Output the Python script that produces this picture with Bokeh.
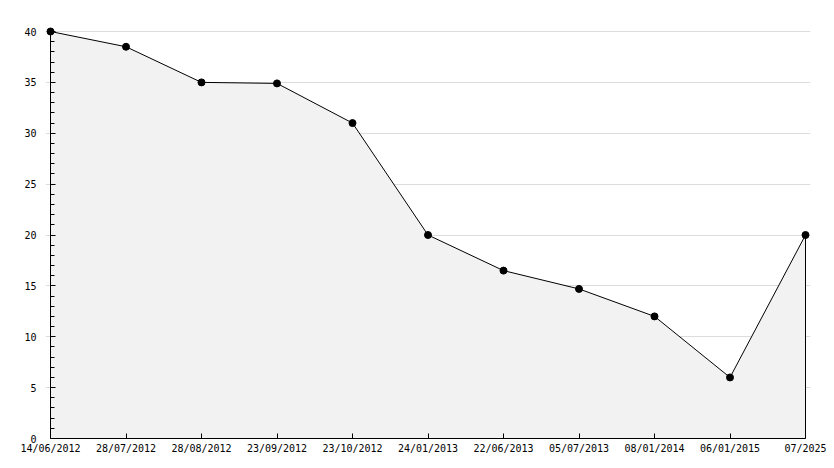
from bokeh.plotting import figure
from bokeh.models import Range1d, FixedTicker, ColumnDataSource, LinearAxis
from bokeh.embed import file_html
from bokeh.resources import INLINE

dates = ["14/06/2012", "28/07/2012", "28/08/2012", "23/09/2012", "23/10/2012",
         "24/01/2013", "22/06/2013", "05/07/2013", "08/01/2014", "06/01/2015", "07/2025"]
values = [40, 38.5, 35, 34.9, 31, 20, 16.5, 14.7, 12, 6, 20]
y_ticks = [0, 5, 10, 15, 20, 25, 30, 35, 40]

idx = list(range(len(dates)))
src = ColumnDataSource(dict(x=idx, y=values, base=[0] * len(values)))

# small padding so end markers are not clipped at the frame
xpad = 5 / 75.5
ypad = 5 / 10.175

p = figure(width=834, height=468, output_backend="svg", toolbar_location=None,
           x_range=Range1d(idx[0] - xpad, idx[-1] + xpad), y_range=Range1d(0, 40 + ypad),
           min_border_left=45, min_border_top=26, min_border_right=24, min_border_bottom=30)
p.outline_line_color = None
p.background_fill_color = "white"
p.border_fill_color = "white"

p.varea(x="x", y1="base", y2="y", source=src, fill_color="#f2f2f2")
p.segment(x0=[idx[-1]], y0=[0], x1=[idx[-1]], y1=[values[-1]], line_color="black", line_width=1)
p.line(x="x", y="y", source=src, line_color="black", line_width=1)
p.scatter(x="x", y="y", source=src, marker="circle", size=7, fill_color="black", line_color="black")

p.xgrid.grid_line_color = None
p.ygrid.grid_line_color = "#dddddd"
p.ygrid.ticker = FixedTicker(ticks=y_ticks)

font = "DejaVu Sans Mono"
p.xaxis.ticker = FixedTicker(ticks=idx)
p.xaxis.major_label_overrides = {i: d for i, d in zip(idx, dates)}
p.xaxis.bounds = (idx[0], idx[-1])
p.xaxis.axis_line_color = "black"
p.xaxis.major_tick_line_color = "black"
p.xaxis.major_tick_in = 5
p.xaxis.major_tick_out = 0
p.xaxis.minor_tick_line_color = None
p.xaxis.major_label_text_font = font
p.xaxis.major_label_text_font_size = "10px"
p.xaxis.major_label_text_color = "black"
p.xaxis.major_label_standoff = 4

# left axis: labels only
ya = p.yaxis[0]
ya.ticker = FixedTicker(ticks=y_ticks)
ya.axis_line_color = None
ya.major_tick_line_color = None
ya.minor_tick_line_color = None
ya.major_label_text_font = font
ya.major_label_text_font_size = "10px"
ya.major_label_text_color = "black"
ya.major_label_standoff = 3

# axis line and inward ticks drawn at x = first category
yline = LinearAxis(ticker=FixedTicker(ticks=y_ticks, minor_ticks=list(range(0, 41))),
                   fixed_location=idx[0], bounds=(0, 40))
yline.axis_line_color = "black"
yline.major_tick_line_color = "black"
yline.major_tick_in = 0
yline.major_tick_out = 5
yline.minor_tick_line_color = "black"
yline.minor_tick_in = 0
yline.minor_tick_out = 4
yline.major_label_text_font_size = "0px"
yline.major_label_text_alpha = 0
p.add_layout(yline, "right")

open("out.html", "w").write(file_html(p, INLINE))
